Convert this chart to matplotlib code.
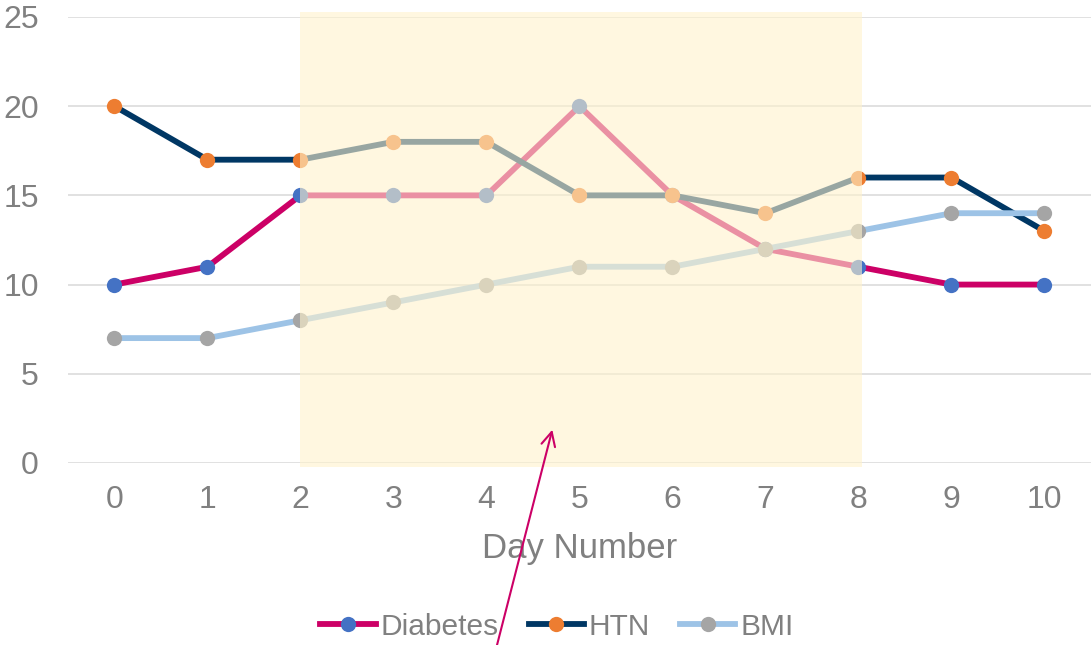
import matplotlib.pyplot as plt
from matplotlib.patches import Rectangle

plt.rcParams['font.family'] = ['Liberation Sans', 'DejaVu Sans']

days = [0, 1, 2, 3, 4, 5, 6, 7, 8, 9, 10]
diabetes = [10, 11, 15, 15, 15, 20, 15, 12, 11, 10, 10]
htn = [20, 17, 17, 18, 18, 15, 15, 14, 16, 16, 13]
bmi = [7, 7, 8, 9, 10, 11, 11, 12, 13, 14, 14]

series = [
    ('Diabetes', diabetes, '#CC0066', '#4472C4'),
    ('HTN', htn, '#003764', '#ED7D31'),
    ('BMI', bmi, '#9DC3E6', '#A5A5A5'),
]

txt = '#808080'

fig = plt.figure(figsize=(10.91, 6.45), dpi=100)
ax = fig.add_axes([0.0623, 0.2822, 0.9377, 0.6915])

for i, (name, vals, lc, mc) in enumerate(series):
    ax.plot(days, vals, color=lc, lw=4.2, marker='o', ms=11,
            mfc=mc, mec=mc, mew=0, label=name, zorder=3 + i)

# highlighted window
ax.add_patch(Rectangle((2.0, -0.2), 6.04, 25.5, facecolor='#FFF2CC',
                       alpha=0.6, edgecolor='none', zorder=10, clip_on=False))

ax.set_xlim(-0.5, 10.5)
ax.set_ylim(0, 25)
ax.set_xticks(days)
ax.set_yticks([0, 5, 10, 15, 20, 25])
ax.yaxis.grid(True, color='#D9D9D9', lw=1.1)
ax.set_axisbelow(True)
for s in ax.spines.values():
    s.set_visible(False)
ax.tick_params(axis='both', length=0, labelsize=23, labelcolor=txt)
ax.tick_params(axis='y', pad=21)
ax.tick_params(axis='x', pad=16)
ax.set_xlabel('Day Number', fontsize=25, color=txt, labelpad=12)

fig.legend(loc='center', bbox_to_anchor=(557 / 1091, 0.028), ncol=3,
           frameon=False, fontsize=21.5, labelcolor=txt, handlelength=1.85,
           handletextpad=0.17, columnspacing=1.0, borderaxespad=0)

ax.annotate('', xy=(553 / 1091, 218 / 645), xycoords='figure fraction',
            xytext=(496 / 1091, -4 / 645), textcoords='figure fraction',
            arrowprops=dict(arrowstyle='->', color='#CC0066', lw=1.5,
                            mutation_scale=25), zorder=20)

fig.savefig('out.png', dpi=100)
